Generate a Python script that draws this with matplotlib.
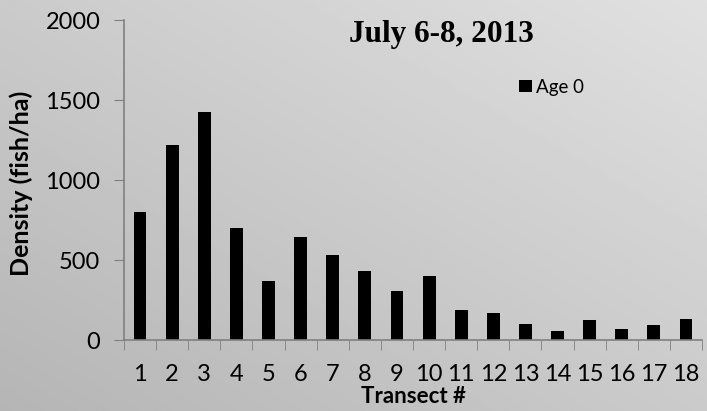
import matplotlib
matplotlib.use("Agg")
import matplotlib.pyplot as plt
import numpy as np

transects = [str(i) for i in range(1, 19)]
density = [800, 1220, 1427, 700, 369, 644, 529, 431, 306, 402,
           185, 169, 102, 56, 125, 67, 94, 131]
series_name = "Age 0"
title = "July 6-8, 2013"

plt.rcParams['font.family'] = ['Lato', 'DejaVu Sans']

fig = plt.figure(figsize=(7.07, 4.11), dpi=100)

# diagonal gray gradient background, darker bottom-left
bg = fig.add_axes([0, 0, 1, 1], zorder=0)
gx, gy = np.meshgrid(np.linspace(0, 1, 200), np.linspace(0, 1, 200))
grad = 0.71 + 0.17 * (gx + (1 - gy)) / 2.0
bg.imshow(grad, cmap='gray', vmin=0, vmax=1, aspect='auto',
          extent=[0, 1, 0, 1], origin='upper')
bg.axis('off')

ax = fig.add_axes([0.1754, 0.1727, 0.8176, 0.7786], zorder=1)
ax.patch.set_alpha(0)
x = np.arange(len(transects))
ax.bar(x, density, width=0.4, color='black', label=series_name)

ax.set_xlim(-0.5, len(transects) - 0.5)
ax.set_ylim(0, 2000)
ax.set_yticks([0, 500, 1000, 1500, 2000])
ax.set_xticks(x)
ax.set_xticklabels(transects)
ax.set_xticks(np.arange(-0.5, len(transects), 1), minor=True)
ax.tick_params(axis='x', which='major', length=0, pad=17, labelsize=17)
ax.tick_params(axis='x', which='minor', length=7, color='#808080', direction='out')
ax.tick_params(axis='y', length=7, color='#808080', labelsize=17, pad=10)

for s in ['top', 'right']:
    ax.spines[s].set_visible(False)
for s in ['left', 'bottom']:
    ax.spines[s].set_color('#808080')
    ax.spines[s].set_linewidth(1.2)

ax.set_ylabel("Density (fish/ha)", fontsize=18, fontweight='bold')
ax.yaxis.set_label_coords(-0.157, 0.49)
ax.set_xlabel("Transect #", fontsize=16, fontweight='bold')
ax.xaxis.set_label_coords(0.5, -0.143)

fig.text(0.624, 0.917, title, fontsize=22.5, fontweight='bold',
         family='Liberation Serif', ha='center', va='center')

fig.legend(loc='center left', bbox_to_anchor=(519 / 707, 1 - 87 / 411),
           frameon=False, fontsize=13.5, handlelength=0.67, handleheight=0.67,
           handletextpad=0.25, borderpad=0, borderaxespad=0)

fig.savefig("out.png", dpi=100)
